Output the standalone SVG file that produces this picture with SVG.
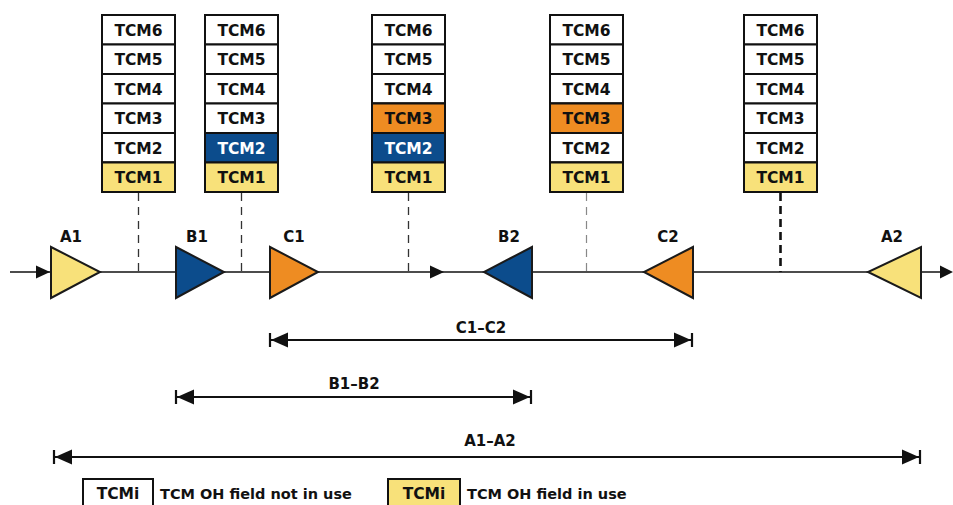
<svg xmlns="http://www.w3.org/2000/svg" width="953" height="505" viewBox="0 0 953 505">
<style>
.cell{stroke:#111;stroke-width:2;fill:#fff}
.y{fill:#F8E17A}
.b{fill:#0C4C8C}
.o{fill:#EE8C22}
.ct{font-family:"DejaVu Sans",sans-serif;font-weight:bold;font-size:15.5px;text-anchor:middle;fill:#111}
.w{fill:#fff}
.lbl{font-family:"DejaVu Sans",sans-serif;font-weight:bold;font-size:15px;text-anchor:middle;fill:#111}
.leg{font-family:"DejaVu Sans",sans-serif;font-weight:bold;font-size:14.5px;fill:#111}
.amp{stroke:#1a1a1a;stroke-width:2;stroke-linejoin:miter}
.line{stroke:#111;stroke-width:1.6;fill:none}
.dash{stroke:#333;stroke-width:1.3;stroke-dasharray:8 6;fill:none}
.dashL{stroke:#888;stroke-width:1.2;stroke-dasharray:8 6;fill:none}
.dashT{stroke:#111;stroke-width:2.6;stroke-dasharray:8 5;fill:none}
.dim{stroke:#111;stroke-width:2.2;fill:none}
.ah{fill:#111}
</style>
<defs>
<g id="stack">
<rect class="cell" x="0" y="0" width="73" height="29.5"/>
<rect class="cell" x="0" y="29.5" width="73" height="29.5"/>
<rect class="cell" x="0" y="59" width="73" height="29.5"/>
<rect class="cell" x="0" y="88.5" width="73" height="29.5"/>
<rect class="cell" x="0" y="118" width="73" height="29.5"/>
<rect class="cell" x="0" y="147.5" width="73" height="29.5"/>
</g>
</defs>

<g id="stack1">
<use href="#stack" x="102" y="15"/>
<rect class="cell y" x="102" y="162.5" width="73" height="29.5"/>
<text class="ct" x="138.5" y="35.5">TCM6</text>
<text class="ct" x="138.5" y="65">TCM5</text>
<text class="ct" x="138.5" y="94.5">TCM4</text>
<text class="ct" x="138.5" y="124">TCM3</text>
<text class="ct" x="138.5" y="153.5">TCM2</text>
<text class="ct" x="138.5" y="183">TCM1</text>
</g>

<g id="stack2">
<use href="#stack" x="205" y="15"/>
<rect class="cell b" x="205" y="133" width="73" height="29.5"/>
<rect class="cell y" x="205" y="162.5" width="73" height="29.5"/>
<text class="ct" x="241.5" y="35.5">TCM6</text>
<text class="ct" x="241.5" y="65">TCM5</text>
<text class="ct" x="241.5" y="94.5">TCM4</text>
<text class="ct" x="241.5" y="124">TCM3</text>
<text class="ct w" x="241.5" y="153.5">TCM2</text>
<text class="ct" x="241.5" y="183">TCM1</text>
</g>

<g id="stack3">
<use href="#stack" x="372" y="15"/>
<rect class="cell o" x="372" y="103.5" width="73" height="29.5"/>
<rect class="cell b" x="372" y="133" width="73" height="29.5"/>
<rect class="cell y" x="372" y="162.5" width="73" height="29.5"/>
<text class="ct" x="408.5" y="35.5">TCM6</text>
<text class="ct" x="408.5" y="65">TCM5</text>
<text class="ct" x="408.5" y="94.5">TCM4</text>
<text class="ct" x="408.5" y="124">TCM3</text>
<text class="ct w" x="408.5" y="153.5">TCM2</text>
<text class="ct" x="408.5" y="183">TCM1</text>
</g>

<g id="stack4">
<use href="#stack" x="550" y="15"/>
<rect class="cell o" x="550" y="103.5" width="73" height="29.5"/>
<rect class="cell y" x="550" y="162.5" width="73" height="29.5"/>
<text class="ct" x="586.5" y="35.5">TCM6</text>
<text class="ct" x="586.5" y="65">TCM5</text>
<text class="ct" x="586.5" y="94.5">TCM4</text>
<text class="ct" x="586.5" y="124">TCM3</text>
<text class="ct" x="586.5" y="153.5">TCM2</text>
<text class="ct" x="586.5" y="183">TCM1</text>
</g>

<g id="stack5">
<use href="#stack" x="744" y="15"/>
<rect class="cell y" x="744" y="162.5" width="73" height="29.5"/>
<text class="ct" x="780.5" y="35.5">TCM6</text>
<text class="ct" x="780.5" y="65">TCM5</text>
<text class="ct" x="780.5" y="94.5">TCM4</text>
<text class="ct" x="780.5" y="124">TCM3</text>
<text class="ct" x="780.5" y="153.5">TCM2</text>
<text class="ct" x="780.5" y="183">TCM1</text>
</g>

<g id="connectors">
<line class="line" x1="10" y1="272" x2="945" y2="272"/>
<line class="dash" x1="138.5" y1="193" x2="138.5" y2="272"/>
<line class="dash" x1="241.5" y1="193" x2="241.5" y2="272"/>
<line class="dash" x1="408.5" y1="193" x2="408.5" y2="272"/>
<line class="dashL" x1="586.5" y1="193" x2="586.5" y2="272"/>
<line class="dashT" x1="780.5" y1="193" x2="780.5" y2="272"/>
<polygon class="ah" points="36,265.5 50,272 36,278.5"/>
<polygon class="ah" points="430,265.5 444,272 430,278.5"/>
<polygon class="ah" points="940,265.5 953,272 940,278.5"/>

<line class="dim" x1="270" y1="340" x2="692" y2="340"/>
<line class="dim" x1="270" y1="333" x2="270" y2="347"/>
<line class="dim" x1="692" y1="333" x2="692" y2="347"/>
<polygon class="ah" points="271,340 288,332.5 288,347.5"/>
<polygon class="ah" points="691,340 674,332.5 674,347.5"/>

<line class="dim" x1="176" y1="397" x2="531" y2="397"/>
<line class="dim" x1="176" y1="390" x2="176" y2="404"/>
<line class="dim" x1="531" y1="390" x2="531" y2="404"/>
<polygon class="ah" points="177,397 194,389.5 194,404.5"/>
<polygon class="ah" points="530,397 513,389.5 513,404.5"/>

<line class="dim" x1="54" y1="457" x2="920" y2="457"/>
<line class="dim" x1="54" y1="450" x2="54" y2="464"/>
<line class="dim" x1="920" y1="450" x2="920" y2="464"/>
<polygon class="ah" points="55,457 72,449.5 72,464.5"/>
<polygon class="ah" points="919,457 902,449.5 902,464.5"/>
</g>

<g id="A1">
<polygon class="amp y" points="51,247 51,298 100,272"/>
<text class="lbl" x="71" y="242">A1</text>
</g>
<g id="B1">
<polygon class="amp b" points="176,247 176,298 224,272"/>
<text class="lbl" x="197" y="242">B1</text>
</g>
<g id="C1">
<polygon class="amp o" points="270,247 270,298 318,272"/>
<text class="lbl" x="294" y="242">C1</text>
</g>
<g id="B2">
<polygon class="amp b" points="532,247 532,298 484,272"/>
<text class="lbl" x="509" y="242">B2</text>
</g>
<g id="C2">
<polygon class="amp o" points="693,247 693,298 644,272"/>
<text class="lbl" x="668" y="242">C2</text>
</g>
<g id="A2">
<polygon class="amp y" points="921,247 921,298 868,272"/>
<text class="lbl" x="892" y="242">A2</text>
</g>

<g id="dimlabels">
<text class="lbl" x="481" y="333">C1–C2</text>
<text class="lbl" x="354" y="389">B1–B2</text>
<text class="lbl" x="490" y="446">A1–A2</text>
</g>

<g id="legend1">
<rect class="cell" x="83" y="479" width="70" height="30"/>
<text class="ct" x="118" y="499">TCMi</text>
<text class="leg" x="160" y="499">TCM OH field not in use</text>
</g>
<g id="legend2">
<rect class="cell y" x="388" y="479" width="72" height="30"/>
<text class="ct" x="424" y="499">TCMi</text>
<text class="leg" x="467" y="499">TCM OH field in use</text>
</g>
</svg>
